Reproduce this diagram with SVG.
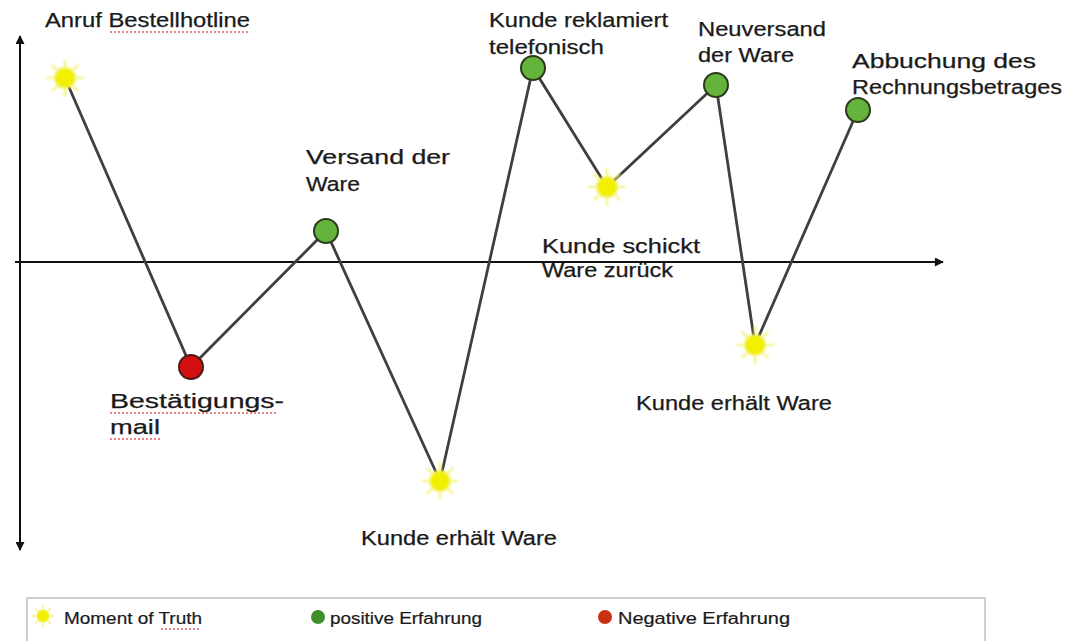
<svg xmlns="http://www.w3.org/2000/svg" width="1086" height="641" viewBox="0 0 1086 641">
  <style>
    .lbl { font-family: "Liberation Sans", Arial, sans-serif; font-size: 19.5px; fill: #1a1a1a; stroke: #1a1a1a; stroke-width: 0.25; }
    .leg { font-family: "Liberation Sans", Arial, sans-serif; font-size: 16px; fill: #1a1a1a; stroke: #1a1a1a; stroke-width: 0.2; }
    .edge { stroke: #3f3f3f; stroke-width: 2.8; fill: none; stroke-linecap: round; }
    .axis { stroke: #111; stroke-width: 2; fill: none; }
    .good { fill: #63b33c; stroke: #2b3a1c; stroke-width: 2; }
    .bad { fill: #d3100f; stroke: #4a1a1a; stroke-width: 2; }
    .spell { stroke: #e03030; stroke-width: 1.4; stroke-dasharray: 2 2; fill: none; opacity: 0.8; }
  </style>
  <defs>
    <marker id="arrow" viewBox="0 0 10 10" refX="9" refY="5" markerWidth="10" markerHeight="9" orient="auto-start-reverse" markerUnits="userSpaceOnUse">
      <path d="M0,0 L10,5 L0,10 z" fill="#111"/>
    </marker>
    <filter id="glow" x="-50%" y="-50%" width="200%" height="200%">
      <feGaussianBlur stdDeviation="1.3"/>
    </filter>
    <!-- moment-of-truth sun: yellow disc with soft rays -->
    <symbol id="sun" viewBox="-20 -20 40 40" overflow="visible">
      <g filter="url(#glow)" stroke="#f2f27a" stroke-width="2.2" stroke-linecap="round">
        <line x1="0" y1="-12" x2="0" y2="-18"/>
        <line x1="0" y1="12" x2="0" y2="18"/>
        <line x1="-12" y1="0" x2="-18" y2="0"/>
        <line x1="12" y1="0" x2="18" y2="0"/>
        <line x1="8.5" y1="8.5" x2="12.5" y2="12.5"/>
        <line x1="-8.5" y1="8.5" x2="-12.5" y2="12.5"/>
        <line x1="8.5" y1="-8.5" x2="12.5" y2="-12.5"/>
        <line x1="-8.5" y1="-8.5" x2="-12.5" y2="-12.5"/>
      </g>
      <circle r="11" fill="#f2f04a" filter="url(#glow)"/>
      <circle r="8.5" fill="#f0f000"/>
    </symbol>
  </defs>

  <rect width="1086" height="641" fill="#ffffff"/>

  <!-- axes -->
  <g id="axes">
    <line class="axis" x1="20" y1="36" x2="20" y2="550" marker-start="url(#arrow)" marker-end="url(#arrow)"/>
    <line class="axis" x1="15" y1="262" x2="943" y2="262" marker-end="url(#arrow)"/>
  </g>

  <!-- journey path -->
  <g id="connectors">
    <polyline class="edge" points="65,78 191,367 326,231 440,481 533,68 607,187 716,85 755,345 858,110"/>
  </g>

  <!-- touchpoints -->
  <g id="n1"><use href="#sun" x="45" y="58" width="40" height="40"/>
    <text class="lbl" x="45" y="27" textLength="205" lengthAdjust="spacingAndGlyphs">Anruf Bestellhotline</text>
    <line class="spell" x1="110" y1="32" x2="250" y2="32"/>
  </g>
  <g id="n2"><circle class="bad" cx="191" cy="367" r="12"/>
    <text class="lbl" x="110" y="408" textLength="174" lengthAdjust="spacingAndGlyphs">Bestätigungs-</text>
    <text class="lbl" x="110" y="434" textLength="50" lengthAdjust="spacingAndGlyphs">mail</text>
    <line class="spell" x1="110" y1="413" x2="278" y2="413"/>
    <line class="spell" x1="110" y1="439" x2="160" y2="439"/>
  </g>
  <g id="n3"><circle class="good" cx="326" cy="231" r="12"/>
    <text class="lbl" x="306" y="164" textLength="144" lengthAdjust="spacingAndGlyphs">Versand der</text>
    <text class="lbl" x="306" y="191" textLength="54" lengthAdjust="spacingAndGlyphs">Ware</text>
  </g>
  <g id="n4"><use href="#sun" x="420" y="461" width="40" height="40"/>
    <text class="lbl" x="361" y="545" textLength="196" lengthAdjust="spacingAndGlyphs">Kunde erhält Ware</text>
  </g>
  <g id="n5"><circle class="good" cx="533" cy="68" r="12"/>
    <text class="lbl" x="489" y="27" textLength="179" lengthAdjust="spacingAndGlyphs">Kunde reklamiert</text>
    <text class="lbl" x="489" y="54" textLength="115" lengthAdjust="spacingAndGlyphs">telefonisch</text>
  </g>
  <g id="n6"><use href="#sun" x="587" y="167" width="40" height="40"/>
    <text class="lbl" x="542" y="253" textLength="158" lengthAdjust="spacingAndGlyphs">Kunde schickt</text>
    <text class="lbl" x="542" y="277" textLength="131" lengthAdjust="spacingAndGlyphs">Ware zurück</text>
  </g>
  <g id="n7"><circle class="good" cx="716" cy="85" r="12"/>
    <text class="lbl" x="698" y="36" textLength="128" lengthAdjust="spacingAndGlyphs">Neuversand</text>
    <text class="lbl" x="698" y="62" textLength="96" lengthAdjust="spacingAndGlyphs">der Ware</text>
  </g>
  <g id="n8"><use href="#sun" x="735" y="325" width="40" height="40"/>
    <text class="lbl" x="636" y="410" textLength="196" lengthAdjust="spacingAndGlyphs">Kunde erhält Ware</text>
  </g>
  <g id="n9"><circle class="good" cx="858" cy="110" r="12"/>
    <text class="lbl" x="852" y="68" textLength="184" lengthAdjust="spacingAndGlyphs">Abbuchung des</text>
    <text class="lbl" x="852" y="94" textLength="210" lengthAdjust="spacingAndGlyphs">Rechnungsbetrages</text>
  </g>

  <!-- legend -->
  <g id="legend">
    <rect x="27" y="598" width="958" height="60" fill="none" stroke="#cfcfcf" stroke-width="2"/>
    <use href="#sun" x="31" y="604" width="24" height="24"/>
    <text class="leg" x="64" y="624" textLength="138" lengthAdjust="spacingAndGlyphs">Moment of Truth</text>
    <line class="spell" x1="161" y1="629" x2="201" y2="629"/>
    <circle cx="318" cy="617" r="7" fill="#3f8f2a"/>
    <text class="leg" x="330" y="624" textLength="152" lengthAdjust="spacingAndGlyphs">positive Erfahrung</text>
    <circle cx="605" cy="617" r="7" fill="#c8300f"/>
    <text class="leg" x="618" y="624" textLength="172" lengthAdjust="spacingAndGlyphs">Negative Erfahrung</text>
  </g>
</svg>
